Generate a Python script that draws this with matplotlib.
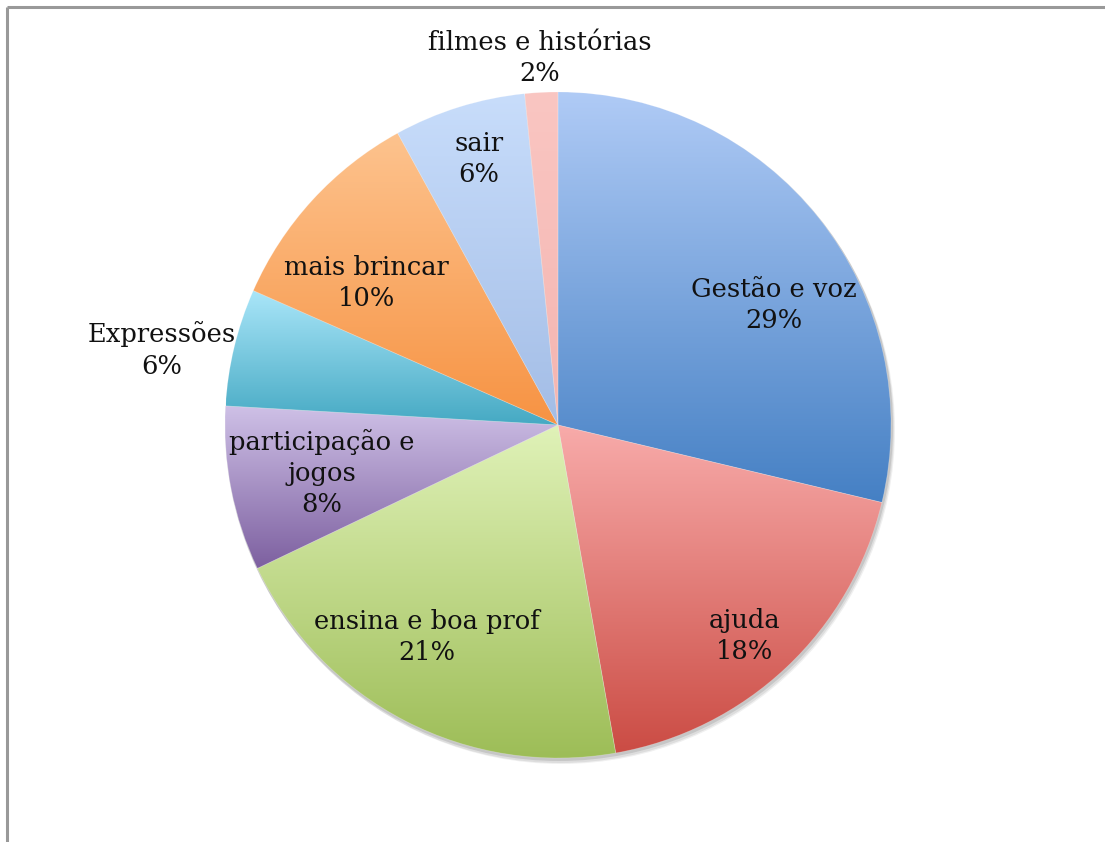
import numpy as np
import matplotlib
matplotlib.use("Agg")
import matplotlib.pyplot as plt
from matplotlib.colors import LinearSegmentedColormap
from matplotlib.patches import Wedge

categories = ["Gestão e voz", "ajuda", "ensina e boa prof", "participação e\njogos",
              "Expressões", "mais brincar", "sair", "filmes e histórias"]
values = [28.75, 18.5, 20.7, 8.0, 5.7, 10.4, 6.4, 1.6]
pct_labels = ["29%", "18%", "21%", "8%", "6%", "10%", "6%", "2%"]

top_colors = ["#b0cbf6", "#f8abaa", "#e0f2b8", "#cfc1e7", "#aae6f9", "#fdc38e", "#c8ddfb", "#fac6c2"]
bot_colors = ["#4580c4", "#cb4c44", "#9dbd57", "#7d60a0", "#45a9c3", "#f79343", "#a3bde6", "#f4b5b1"]
# label positions in units of radius, relative to pie centre
label_pos = [(0.649, 0.36), (0.559, -0.634), (-0.393, -0.637), (-0.709, -0.144),
             (-1.189, 0.225), (-0.574, 0.426), (-0.237, 0.799), (-0.054, 1.102)]

W, H = 1105, 842
fig = plt.figure(figsize=(W / 100, H / 100), dpi=100)
ax = fig.add_axes([0, 0, 1, 1])
ax.set_xlim(0, W)
ax.set_ylim(H, 0)
ax.set_aspect("equal")
ax.axis("off")

cx, cy, R = 558, 425, 333

# shadow
for dx, dy, a in [(3, 5, 0.06), (2, 4, 0.08), (1, 2, 0.10)]:
    ax.add_patch(plt.Circle((cx + dx, cy + dy), R + 1, color="black", alpha=a, lw=0, zorder=1))

total = sum(values)
start = 90.0
for v, ct, cb in zip(values, top_colors, bot_colors):
    span = 360.0 * v / total
    t1 = -start
    t2 = -(start - span)
    w = Wedge((cx, cy), R, t1, t2, lw=0, fc="none", zorder=2)
    ax.add_patch(w)
    ext = w.get_path().get_extents(w.get_patch_transform())
    cmap = LinearSegmentedColormap.from_list("g", [ct, cb])
    grad = np.linspace(0, 1, 256).reshape(-1, 1)
    im = ax.imshow(grad, cmap=cmap, aspect="auto",
                   extent=(ext.x0, ext.x1, ext.y1, ext.y0), zorder=2, interpolation="bilinear")
    im.set_clip_path(w)
    ax.add_patch(Wedge((cx, cy), R, t1, t2, lw=0.5, ec=(1, 1, 1, 0.25), fc="none", zorder=3))
    start -= span

for cat, pl, (lx, ly) in zip(categories, pct_labels, label_pos):
    ax.text(cx + lx * R, cy - ly * R, cat + "\n" + pl, ha="center", va="center",
            fontsize=18.5, family="DejaVu Serif", linespacing=1.32, color="#111111", zorder=5)

# frame (left & top visible)
ax.plot([7, 7], [H, 7], color="#999999", lw=2.2, zorder=6, solid_capstyle="butt")
ax.plot([7, W], [7, 7], color="#999999", lw=2.2, zorder=6, solid_capstyle="butt")

fig.savefig("out.png", dpi=100)
